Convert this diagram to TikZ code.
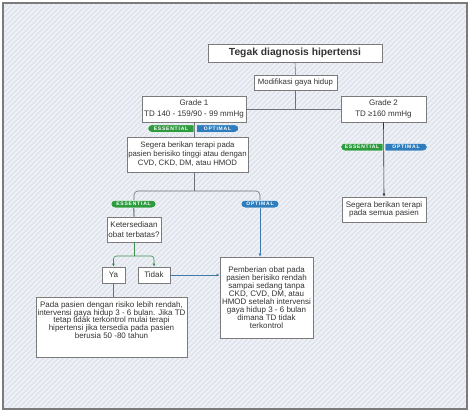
\documentclass[tikz,border=0pt]{standalone}
\usepackage{fontspec}
\setmainfont{Liberation Sans}
\usetikzlibrary{arrows.meta,shapes.misc}
\definecolor{framegray}{HTML}{7B7B7B}
\definecolor{bgblue}{HTML}{E0E4ED}
\definecolor{linegray}{HTML}{6B7278}
\definecolor{essgreen}{HTML}{2E9B3F}
\definecolor{optblue}{HTML}{2F7DBD}
\definecolor{txtgray}{HTML}{333333}

\begin{document}
\begin{tikzpicture}[x=1pt,y=-1pt]

    \tikzset{
      box/.style={
        draw=framegray,
        fill=white,
        line width=0.7pt,
        text=txtgray,
        align=center,
        inner sep=0pt,
        font=\fontsize{8}{9}\selectfont,
      },
      link/.style={draw=linegray, line width=0.6pt},
      essline/.style={draw=essgreen!70!linegray, line width=0.6pt},
      optline/.style={draw=optblue!70!linegray, line width=0.6pt},
      pill/.style={
        rounded rectangle,
        draw=white,
        line width=0.5pt,
        text=white,
        inner xsep=1pt,
        inner ysep=0pt,
        minimum height=7.5pt,
        font=\fontsize{5}{5.5}\bfseries\selectfont\addfontfeature{LetterSpace=16},
      },
      ess/.style={pill, fill=essgreen},
      opt/.style={pill, fill=optblue},
      tip/.style={-{Latex[length=3pt,width=3pt]}},
    }
    \useasboundingbox (0,0) rectangle (474,413);
    % background
    \fill[bgblue] (3,3) rectangle (467,409);
    \begin{scope}
      \clip (3,3) rectangle (467,409);
      \foreach \i in {-410,-405,...,470}
        \draw[white, line width=1.2pt, opacity=0.65] (\i,409) -- ++(406,-406);
    \end{scope}
    \draw[framegray, line width=1.6pt] (3,3) rectangle (467,409);

    % boxes
    \node[box, minimum width=174pt, minimum height=18pt, font=\fontsize{10.3}{12}\bfseries\selectfont] (diag) at (295,53) {Tegak diagnosis hipertensi};
    \node[box, minimum width=83pt, minimum height=15pt, font=\fontsize{7.8}{9}\selectfont] (modif) at (295.5,82.5) {Modifikasi gaya hidup};
    \node[box, minimum width=104pt, minimum height=26pt, font=\fontsize{8}{10.5}\selectfont] (grade1) at (194,109) {Grade 1\\TD 140 - 159/90 - 99 mmHg};
    \node[box, minimum width=85pt, minimum height=26pt, font=\fontsize{8}{10.5}\selectfont] (grade2) at (383.5,109) {Grade 2\\TD ≥160 mmHg};
    \node[box, minimum width=121pt, minimum height=35pt, font=\fontsize{7.8}{9}\selectfont] (segera1) at (187.5,154.5) {Segera berikan terapi pada\\pasien berisiko tinggi atau dengan\\CVD, CKD, DM, atau HMOD};
    \node[box, minimum width=84pt, minimum height=25pt, font=\fontsize{8}{8.4}\selectfont] (segera2) at (384,209.5) {Segera berikan terapi\\pada semua pasien};
    \node[box, minimum width=54pt, minimum height=25pt, font=\fontsize{8}{9.3}\selectfont] (sedia) at (134,229.5) {Ketersediaan\\obat terbatas?};
    \node[box, minimum width=23pt, minimum height=16pt] (ya) at (113.5,275) {Ya};
    \node[box, minimum width=32pt, minimum height=16pt] (tidak) at (154,275) {Tidak};
    \node[box, minimum width=93pt, minimum height=81pt, font=\fontsize{8}{7.9}\selectfont] (beri) at (266.5,297.5) {Pemberian obat pada\\pasien berisiko rendah\\sampai sedang tanpa\\CKD, CVD, DM, atau\\HMOD setelah intervensi\\gaya hidup 3 - 6 bulan\\dimana TD tidak\\terkontrol};
    \node[box, minimum width=151pt, minimum height=60pt, font=\fontsize{8}{7.8}\selectfont, text depth=14pt] (pada) at (111.5,327) {Pada pasien dengan risiko lebih rendah,\\intervensi gaya hidup 3 - 6 bulan. Jika TD\\tetap tidak terkontrol mulai terapi\\hipertensi jika tersedia pada pasien\\berusia 50 -80 tahun};

    % connectors
    \coordinate (split1) at (194,191);
    \coordinate (optx) at (260,191);
    \coordinate (split2) at (134,256);
    \draw[link] (diag.south) -- (modif.north);
    \draw[link] (modif.south) -- (modif.south |- grade1.east);
    \draw[link] (grade1.east) -- (grade2.west);
    \draw[link] (grade1.south) -- (grade1.south |- segera1.north);
    \draw[link] (grade1.south |- segera1.south) -- (split1);
    \draw[link, rounded corners=4pt] (split1) -| (sedia.north);
    \draw[link, rounded corners=4pt] (split1) -| (optx |- 0,204);
    \draw[essline] (133.5,204) -- (sedia.north);
    \draw[optline, tip] (optx |- 0,204) -- (optx |- beri.north);
    \draw[essline] (sedia.south) -- (split2);
    \draw[essline, rounded corners=3pt, tip] (split2) -| (ya.north);
    \draw[essline, rounded corners=3pt, tip] (split2) -| (tidak.north);
    \draw[optline, tip] (tidak.east) -- (tidak.east -| beri.west);
    \draw[link] (ya.south) -- (ya.south |- pada.north);
    \draw[draw=black!80, line width=0.6pt, tip] (grade2.south) -- (segera2.north);

    % tags
    \node[ess, rounded rectangle right arc=none, minimum width=48pt] (ess1) at (171,128.5) {ESSENTIAL};
    \node[opt, rounded rectangle left arc=none, minimum width=44pt] (opt1) at (217.5,128.5) {OPTIMAL};
    \node[ess, rounded rectangle right arc=none, minimum width=44pt] (ess2) at (362,147) {ESSENTIAL};
    \node[opt, rounded rectangle left arc=none, minimum width=44pt] (opt2) at (406,147) {OPTIMAL};
    \node[ess, minimum width=47pt] (ess3) at (133.5,204) {ESSENTIAL};
    \node[opt, minimum width=40pt] (opt3) at (260,204) {OPTIMAL};

\end{tikzpicture}
\end{document}
